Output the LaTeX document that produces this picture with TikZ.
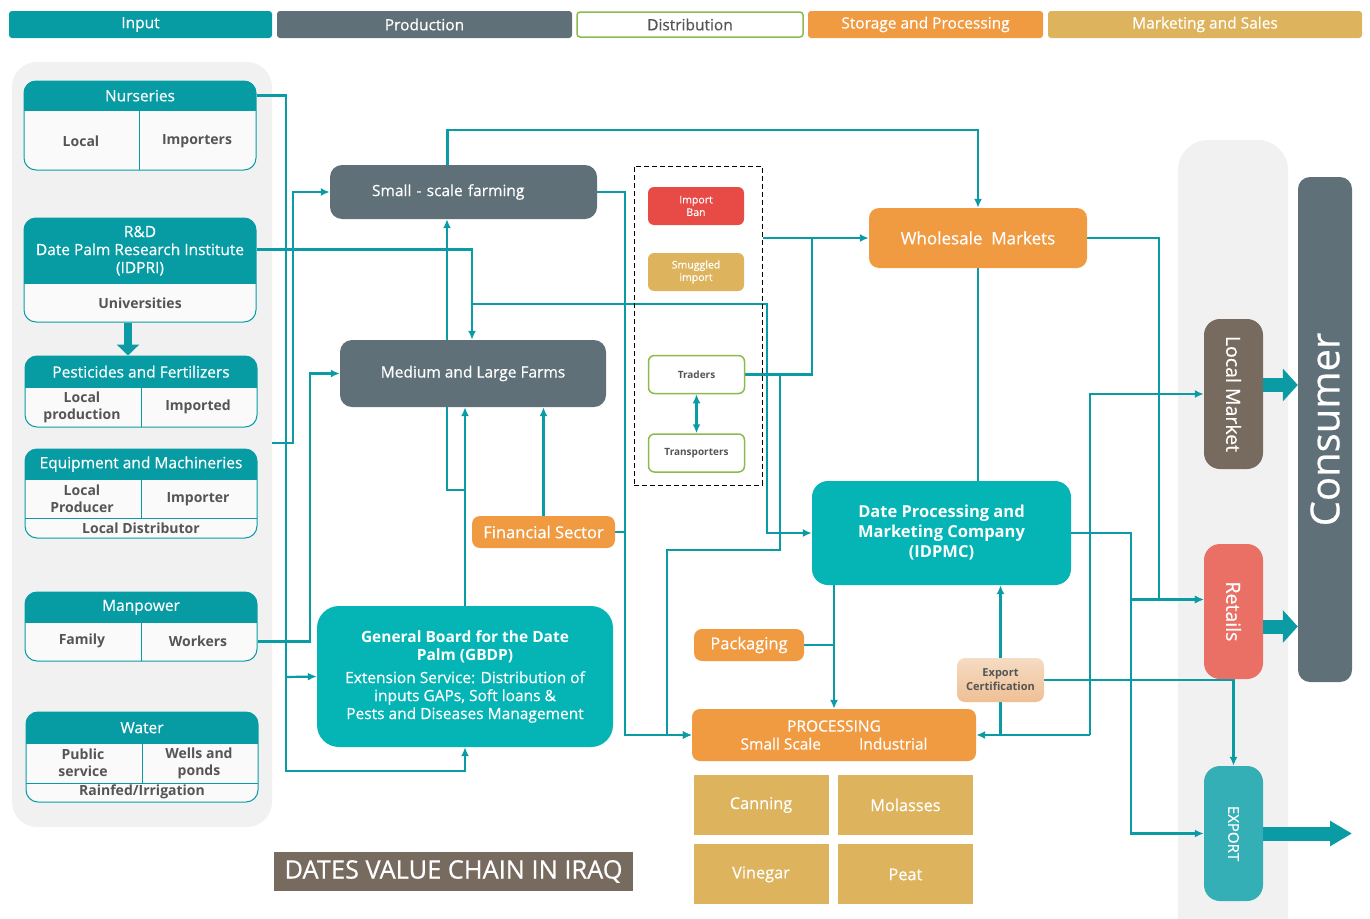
\documentclass[tikz,border=0pt]{standalone}
\usepackage{fontspec}
\setmainfont{Open Sans}
\newfontfamily\medfont{Open Sans}[FakeBold=0.5]
\usetikzlibrary{positioning, arrows.meta, calc, backgrounds}
\definecolor{hd}{HTML}{079CA4}
\definecolor{lin}{HTML}{0A9BA4}
\definecolor{slate}{HTML}{607078}
\definecolor{aqua}{HTML}{05B5B5}
\definecolor{orng}{HTML}{F09B42}
\definecolor{mustard}{HTML}{DDB35D}
\definecolor{banred}{HTML}{E84A45}
\definecolor{leaf}{HTML}{8DBA4E}
\definecolor{brownish}{HTML}{776A5E}
\definecolor{salmon}{HTML}{EA7066}
\definecolor{expteal}{HTML}{34AFB5}
\definecolor{panel}{HTML}{F1F1F1}
\definecolor{cellbg}{HTML}{FAFAFA}
\definecolor{txtgrey}{HTML}{555555}
\definecolor{certtop}{HTML}{F5DCC4}
\definecolor{certbot}{HTML}{EFBF94}
\tikzset{every node/.append style={execute at begin node={\hyphenpenalty=10000\exhyphenpenalty=10000\relax}}}

\begin{document}
\begin{tikzpicture}[x=1pt, y=-1pt, >={Latex[length=9pt,width=8pt]},
  flow/.style={draw=lin, line width=2.2pt, ->},
  wire/.style={draw=lin, line width=2.2pt},
  fat/.style={draw=lin, line width=14pt, -{Triangle[length=15pt,width=32pt]}},
  phase/.style={rounded corners=3pt, minimum height=27pt, inner sep=0pt, text=white, font=\medfont\fontsize{15.5}{18}\selectfont},
  grp/.style={draw=hd, fill=cellbg, line width=1pt, rounded corners=12pt, minimum width=232pt, inner sep=0pt,
    path picture={\fill[hd, sharp corners] (path picture bounding box.north west) rectangle ([yshift=-#1]path picture bounding box.north east);}},
  hdtxt/.style={anchor=north, inner sep=0pt, text=white, align=center, font=\medfont\fontsize{15.5}{18}\selectfont},
  cellt/.style={inner sep=0pt, text=txtgrey, align=center, font=\bfseries\fontsize{14}{17}\selectfont},
  divider/.style={draw=hd, line width=1pt},
  farm/.style={fill=slate, rounded corners=12pt, text=white, font=\medfont\fontsize{15.5}{18}\selectfont},
  orbox/.style={fill=orng, rounded corners=8pt, text=white, font=\medfont\fontsize{16.5}{19}\selectfont},
  board/.style={fill=aqua, rounded corners=22pt, text=white, align=center},
  chip/.style={rounded corners=6pt, minimum width=96pt, minimum height=38pt, inner sep=0pt, align=center, text=white, font=\medfont\fontsize{10.5}{12.5}\selectfont},
  agent/.style={chip, draw=leaf, line width=1.5pt, fill=white, text=txtgrey, font=\bfseries\fontsize{10}{12}\selectfont},
  prod/.style={fill=mustard, minimum width=135pt, minimum height=60pt, text=white, font=\medfont\fontsize{16.3}{19}\selectfont},
  pill/.style={rounded corners=16pt, minimum width=59pt, minimum height=135pt},
  vtxt/.style={text=white, font=\medfont\fontsize{19.5}{22}\selectfont}]
  \useasboundingbox (0,0) rectangle (1370,918);
  \begin{scope}[on background layer]
    \fill[panel, rounded corners=25pt] (12,62) rectangle (272,827);
    \fill[panel, rounded corners=30pt] (1178,140) rectangle (1288,970);
  \end{scope}

  % phases
  \node[phase, fill=hd, minimum width=263pt] (tIn) at (140.5,24.5) {Input};
  \node[phase, fill=slate, minimum width=295pt] (tProd) at (424.5,24.5) {Production};
  \node[phase, draw=leaf, line width=1.5pt, fill=white, text=txtgrey, minimum width=226pt, minimum height=25pt] (tDist) at (690,24.5) {Distribution};
  \node[phase, fill=orng, minimum width=235pt] (tStore) at (925.5,24.5) {Storage and Processing};
  \node[phase, fill=mustard, minimum width=314pt] (tMkt) at (1205,24.5) {Marketing and Sales};

  % inputs
  \node[grp=30pt, minimum height=89pt] (nurs) at (140,125.5) {};
  \node[hdtxt, minimum height=30pt] (nursH) at (nurs.north) {Nurseries};
  \node[cellt] (nursA) at (81,141) {Local};
  \node[cellt] (nursB) at (197,141) {Importers};
  \draw[divider] (139,111) -- (139,170);

  \node[grp=66pt, minimum height=104pt] (rnd) at (140,270) {};
  \node[hdtxt, minimum height=66pt] (rndH) at (rnd.north) {R\&D\\Date Palm Research Institute\\(IDPRI)};
  \node[cellt] (rndA) at (140,303) {Universities};

  \node[grp=32pt, minimum height=71pt] (pest) at (141,391.5) {};
  \node[hdtxt, minimum height=32pt] (pestH) at (pest.north) {Pesticides and Fertilizers};
  \node[cellt] (pestA) at (82,407) {Local\\production};
  \node[cellt] (pestB) at (198,407) {Imported};
  \draw[divider] (141,388) -- (141,427);

  \node[grp=31pt, minimum height=89pt] (equip) at (141,493.5) {};
  \node[hdtxt, minimum height=31pt] (equipH) at (equip.north) {Equipment and Machineries};
  \node[cellt] (equipA) at (82,499) {Local\\Producer};
  \node[cellt] (equipB) at (198,499) {Importer};
  \node[cellt] (equipC) at (141,528) {Local Distributor};
  \draw[divider] (141,480) -- (141,518) (25,518) -- (257,518);

  \node[grp=31pt, minimum height=69pt] (manp) at (141,626.5) {};
  \node[hdtxt, minimum height=31pt] (manpH) at (manp.north) {Manpower};
  \node[cellt] (manpA) at (82,641) {Family};
  \node[cellt] (manpB) at (198,641) {Workers};
  \draw[divider] (141,623) -- (141,661);

  \node[grp=32pt, minimum height=90pt] (water) at (142,757) {};
  \node[hdtxt, minimum height=32pt] (waterH) at (water.north) {Water};
  \node[cellt] (waterA) at (83,763) {Public\\service};
  \node[cellt] (waterB) at (199,763) {Wells and\\ponds};
  \node[cellt] (waterC) at (142,792) {Rainfed/Irrigation};
  \draw[divider] (142,744) -- (142,783) (26,783) -- (258,783);

  % production
  \node[farm, minimum height=54pt, text width=183pt, inner xsep=42pt, align=left] (small) at (463.5,192) {Small - scale farming};
  \node[farm, minimum width=266pt, minimum height=67pt] (medium) at (473,373.5) {Medium and Large Farms};
  \node[orbox, minimum width=143pt, minimum height=32pt] (fin) at (543.5,532) {Financial Sector};
  \node[board, minimum width=296pt, minimum height=141pt, font=\medfont\fontsize{15.5}{18}\selectfont] (gbdp) at (465,676.5)
    {{\normalfont\bfseries\fontsize{15.5}{18}\selectfont General Board for the Date}\\{\normalfont\bfseries\fontsize{15.5}{18}\selectfont Palm (GBDP)}\\[5pt]Extension Service: Distribution of\\inputs GAPs, Soft loans \&\\Pests and Diseases Management};

  % distribution
  \node[draw, line width=1pt, dash pattern=on 5pt off 3pt, minimum width=128pt, minimum height=319pt] (distbox) at (698,325.5) {};
  \node[chip, fill=banred] (ban) at (696,206) {Import\\Ban};
  \node[chip, fill=mustard] (smug) at (696,272) {Smuggled\\import};
  \node[agent] (traders) at (696.5,374.5) {Traders};
  \node[agent, below=39pt of traders] (transp) {Transporters};

  % storage and processing
  \node[orbox, rounded corners=10pt, minimum width=218pt, minimum height=60pt, font=\medfont\fontsize{17}{20}\selectfont] (whole) at (978,238) {Wholesale~ Markets};
  \node[board, rounded corners=16pt, minimum width=259pt, minimum height=104pt, font=\bfseries\fontsize{16.5}{20}\selectfont] (idpmc) at (941.5,533) {Date Processing and\\Marketing Company\\(IDPMC)};
  \node[orbox, minimum width=110pt, minimum height=32pt] (pack) at (749,645) {Packaging};
  \node[rounded corners=8pt, top color=certtop, bottom color=certbot, minimum width=87pt, minimum height=44pt, inner sep=0pt, align=center, text=txtgrey, font=\bfseries\fontsize{11}{14}\selectfont] (cert) at (1000.5,680) {Export\\Certification};
  \node[orbox, minimum width=284pt, minimum height=52pt, align=center, font=\medfont\fontsize{15.5}{18}\selectfont] (proc) at (834,735) {PROCESSING\\Small Scale\hspace{38pt}Industrial};
  \node[prod] (can) at (761,805) {Canning};
  \node[prod, right=9pt of can] (mol) {Molasses};
  \node[prod, below=9pt of can] (vin) {Vinegar};
  \node[prod, right=9pt of vin] (peat) {Peat};

  % marketing
  \node[pill, fill=brownish, minimum height=150pt] (localm) at (1233.5,394) {};
  \node[vtxt, rotate=-90] (localmT) at (localm) {Local Market};
  \node[pill, fill=salmon] (retail) at (1233.5,611.5) {};
  \node[vtxt, rotate=-90] (retailT) at (retail) {Retails};
  \node[pill, fill=expteal] (export) at (1233.5,833.5) {};
  \node[vtxt, rotate=-90, font=\medfont\fontsize{15}{18}\selectfont] (exportT) at (export) {EXPORT};
  \node[fill=slate, rounded corners=12pt, minimum width=54pt, minimum height=505pt] (cons) at (1325,429.5) {};
  \node[vtxt, rotate=90, font=\medfont\fontsize{40}{48}\selectfont] (consT) at (cons) {Consumer};

  \node[fill=brownish, text=white, minimum width=359pt, minimum height=39pt, font=\medfont\fontsize{25.4}{29}\selectfont] (title) at (453.5,871.5) {DATES VALUE CHAIN IN IRAQ};

  \coordinate (inbus) at (272,443);
  \coordinate (pbus) at (1090,735);
  \coordinate (abroad) at (1352,833.5);

  \begin{scope}[on background layer]
    % inputs to production
    \draw[flow] ([yshift=-15pt]nurs.north east) -| (286,771) -| (gbdp.south);
    \draw[flow] (286,677) -- (gbdp.west);
    \draw[flow] ([yshift=-32pt]rnd.north east) -| ([xshift=-1pt]medium.north);
    \draw[flow] (472,304) -| (767,533) -- (idpmc.west);
    \draw[flow] (inbus) -- (293,443) |- (small.west);
    \draw[flow] ([yshift=-15pt]manp.east) -| ([xshift=-30pt]medium.west) -- (medium.west);
    % production links
    \draw[flow] ([xshift=-26pt]medium.north) -- ([xshift=-26pt]medium.north |- small.south);
    \draw[flow] ([xshift=-16pt]small.north) |- ([yshift=78pt]whole.north) -- (whole.north);
    \draw[flow] (small.east) -| (625,735) -- (proc.west);
    \draw[wire] (fin.east) -- (625,532);
    \draw[flow] (gbdp.north) -- (gbdp.north |- medium.south);
    \draw[wire] ([xshift=-26pt]medium.south) |- (465,490);
    \draw[flow] (fin.north) -- (fin.north |- medium.south);
    % distribution
    \draw[flow] (distbox.east |- whole.west) -- (whole.west);
    \draw[wire] (traders.east) -| (812,238);
    \draw[flow] (traders.east) -| (780,550) -| (667,735) -- (proc.west);
    \draw[flow, <->] (traders.south) -- (transp.north);
    % storage and processing
    \draw[wire] (whole.south) -- (whole.south |- idpmc.north);
    \draw[flow] (whole.east) -| ([xshift=-45pt,yshift=12pt]retail.west) -- ([yshift=12pt]retail.west);
    \draw[flow] (idpmc.east) -| ([xshift=-73pt]export.west) -- (export.west);
    \draw[flow] (1131,599.5) -- ([yshift=12pt]retail.west);
    \draw[flow] (proc.north |- idpmc.south) -- (proc.north);
    \draw[wire] (pack.east) -- (pack.east -| proc.north);
    \draw[flow] (pbus) -- (proc.east);
    \draw[flow] (pbus) |- (localm.west);
    \draw[flow] (cert.center |- proc.east) -- (cert.center |- idpmc.south);
    \draw[flow] (cert.east) -| (export.north);
  \end{scope}

  % block arrows
  \draw[fat, line width=8pt, -{Triangle[length=11pt,width=22pt]}] ([xshift=-12pt]rnd.south) -- ([xshift=-12pt]rnd.south |- pest.north);
  \draw[fat] ([yshift=9pt]localm.east) -- ([yshift=9pt]localm.east -| cons.west);
  \draw[fat] ([yshift=-15pt]retail.east) -- ([yshift=-15pt]retail.east -| cons.west);
  \draw[fat, -{Triangle[length=22pt,width=24pt]}] (export.east) -- (abroad);
\end{tikzpicture}
\end{document}
